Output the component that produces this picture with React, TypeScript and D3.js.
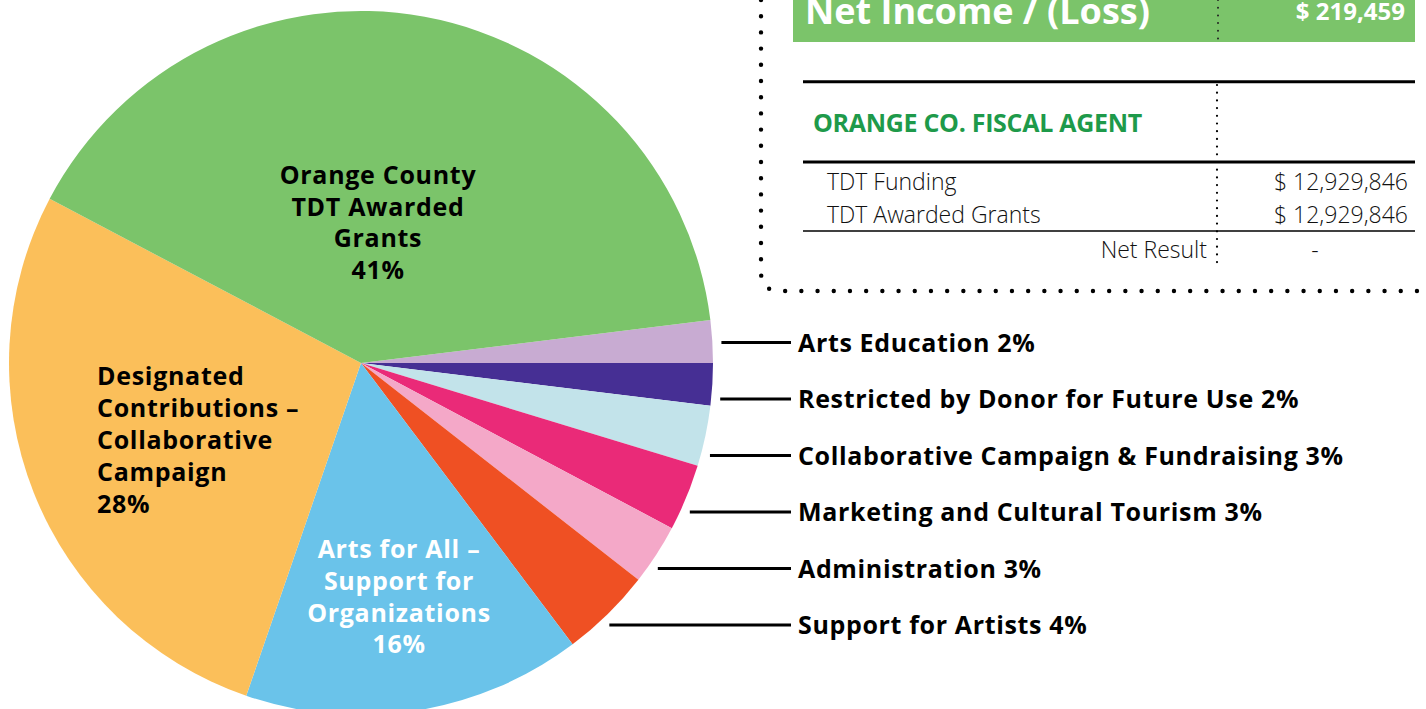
import React from "react";
import * as d3 from "d3";

// ---- data ----
const sliceNames = [
  "Arts Education",
  "Restricted by Donor for Future Use",
  "Collaborative Campaign & Fundraising",
  "Marketing and Cultural Tourism",
  "Administration",
  "Support for Artists",
  "Arts for All – Support for Organizations",
  "Designated Contributions – Collaborative Campaign",
  "Orange County TDT Awarded Grants",
];
const sliceValues = [1.94, 1.94, 2.78, 3.06, 2.78, 4.18, 15.55, 27.44, 40.33];
const sliceLabels = ["2%", "2%", "3%", "3%", "3%", "4%", "16%", "28%", "41%"];
const sliceColors = [
  "#C8ABD2",
  "#462F94",
  "#C2E3EA",
  "#EA2A78",
  "#F4A8C8",
  "#EF5023",
  "#6AC3EA",
  "#FBBF5A",
  "#7BC46A",
];
const outsideLabels = [
  "Arts Education 2%",
  "Restricted by Donor for Future Use 2%",
  "Collaborative Campaign & Fundraising 3%",
  "Marketing and Cultural Tourism 3%",
  "Administration 3%",
  "Support for Artists 4%",
];
const greenLines = ["Orange County", "TDT Awarded", "Grants", "41%"];
const orangeLines = ["Designated", "Contributions –", "Collaborative", "Campaign", "28%"];
const blueLines = ["Arts for All –", "Support for", "Organizations", "16%"];

const netIncomeLabel = "Net Income / (Loss)";
const netIncomeValue = "$ 219,459";
const fiscalTitle = "ORANGE CO. FISCAL AGENT";
const fiscalRows = ["TDT Funding", "TDT Awarded Grants"];
const fiscalValues = ["$ 12,929,846", "$ 12,929,846"];
const netResultLabel = "Net Result";
const netResultValue = "-";

const W = 1426;
const H = 709;
const FONT = "'Open Sans', 'DejaVu Sans', sans-serif";

export default function App() {
  const cx = 361;
  const cy = 363;
  const r = 352;
  const start = (83 * Math.PI) / 180;
  const pie = d3
    .pie<number>()
    .sort(null)
    .value((d) => d)
    .startAngle(start)
    .endAngle(start + 2 * Math.PI);
  const arcs = pie(sliceValues);
  const arc = d3.arc<d3.PieArcDatum<number>>().innerRadius(0).outerRadius(r);

  const labelY0 = 342.5;
  const labelStep = 56.5;
  const lineEndX = 791;
  const textX = 798;

  const tableLeft = 803;
  const tableRight = 1415;
  const divX = 1218;

  return (
    <svg
      width={W}
      height={H}
      style={{ position: "absolute", left: 0, top: 0, background: "#fff" }}
      fontFamily={FONT}
    >
      <g transform={`translate(${cx},${cy})`}>
        {arcs.map((a, i) => (
          <path key={sliceNames[i]} d={arc(a) || ""} fill={sliceColors[i]} />
        ))}
      </g>

      {/* inside labels */}
      <text fontSize={25} fontWeight={700} fill="#000" textAnchor="middle" letterSpacing={0.7}>
        {greenLines.map((t, i) => (
          <tspan key={t} x={378} y={184 + i * 31.5}>
            {t}
          </tspan>
        ))}
      </text>
      <text fontSize={25} fontWeight={700} fill="#000" textAnchor="start" letterSpacing={0.7}>
        {orangeLines.map((t, i) => (
          <tspan key={t} x={97} y={385 + i * 31.9}>
            {t}
          </tspan>
        ))}
      </text>
      <text fontSize={25} fontWeight={700} fill="#fff" textAnchor="middle" letterSpacing={0.7}>
        {blueLines.map((t, i) => (
          <tspan key={t} x={399} y={558.3 + i * 31.7}>
            {t}
          </tspan>
        ))}
      </text>

      {/* outside labels with leader lines */}
      {outsideLabels.map((t, i) => {
        const y = labelY0 + i * labelStep;
        const rr = r + 9;
        const dy = y - cy;
        const x0 = cx + Math.sqrt(Math.max(0, rr * rr - dy * dy));
        return (
          <g key={t}>
            <line x1={x0} x2={lineEndX} y1={y} y2={y} stroke="#000" strokeWidth={3} />
            <text
              x={textX}
              y={y}
              dy="0.36em"
              fontSize={25}
              fontWeight={700}
              fill="#000"
              letterSpacing={0.65}
            >
              {t}
            </text>
          </g>
        );
      })}

      {/* dotted frame */}
      <path
        d={`M761,0 L761,272 Q761,291 780,291 L1418,291 Q1424,291 1426,286`}
        fill="none"
        stroke="#000"
        strokeWidth={4.4}
        strokeLinecap="round"
        strokeDasharray="0 16.2"
      />

      {/* Net income bar */}
      <rect x={793} y={0} width={tableRight - 793} height={42} fill="#7BC46A" />
      <text x={805} y={24} fontSize={36} fontWeight={700} fill="#fff">
        {netIncomeLabel}
      </text>
      <text x={1405} y={20} fontSize={24} fontWeight={700} fill="#fff" textAnchor="end">
        {netIncomeValue}
      </text>
      <line
        x1={divX}
        x2={divX}
        y1={0}
        y2={42}
        stroke="#222"
        strokeWidth={2}
        strokeLinecap="round"
        strokeDasharray="0 7.7"
      />

      {/* fiscal agent table */}
      <line x1={tableLeft} x2={tableRight} y1={81.7} y2={81.7} stroke="#000" strokeWidth={3} />
      <line x1={tableLeft} x2={tableRight} y1={162} y2={162} stroke="#000" strokeWidth={3} />
      <line x1={tableLeft} x2={tableRight} y1={231} y2={231} stroke="#000" strokeWidth={1.5} />
      <line
        x1={divX - 1}
        x2={divX - 1}
        y1={85}
        y2={268}
        stroke="#000"
        strokeWidth={2.2}
        strokeLinecap="round"
        strokeDasharray="0 7.7"
      />
      <text x={813} y={131.7} fontSize={25} fontWeight={700} fill="#1E9A4A" letterSpacing={-0.3}>
        {fiscalTitle}
      </text>
      {fiscalRows.map((t, i) => (
        <g key={t}>
          <text x={827} y={190 + i * 32.7} fontSize={23} fontWeight={300} fill="#111">
            {t}
          </text>
          <text x={1408} y={190 + i * 32.7} fontSize={23} fontWeight={300} fill="#111" textAnchor="end">
            {fiscalValues[i]}
          </text>
        </g>
      ))}
      <text x={1207} y={257.7} fontSize={23} fontWeight={300} fill="#111" textAnchor="end">
        {netResultLabel}
      </text>
      <text x={1315} y={257.7} fontSize={23} fontWeight={300} fill="#111" textAnchor="middle">
        {netResultValue}
      </text>
    </svg>
  );
}
